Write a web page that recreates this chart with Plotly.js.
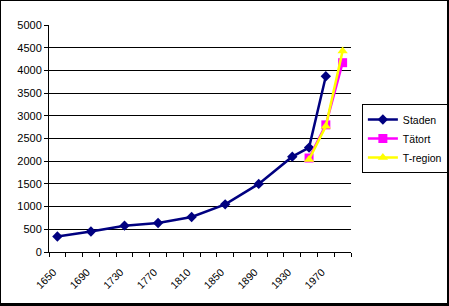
<!DOCTYPE html>
<html>
<head>
<meta charset="utf-8">
<script src="https://cdn.plot.ly/plotly-3.0.1.min.js"></script>
<style>
html,body{margin:0;padding:0;background:#fff;}
#wrap{position:relative;width:449px;height:306px;}
#chart{position:absolute;left:0;top:0;width:449px;height:306px;}
#frame{position:absolute;left:0;top:0;width:449px;height:306px;box-sizing:border-box;
  border-style:solid;border-color:#000;border-width:1px 2px 3px 1px;pointer-events:none;}
</style>
</head>
<body>
<div id="wrap"><div id="chart"></div><div id="frame"></div></div>
<script>
// Data
const stadenYears = [1650, 1690, 1730, 1770, 1810, 1850, 1890, 1930, 1950, 1970];
const stadenValues = [340, 450, 580, 640, 770, 1050, 1500, 2100, 2300, 3870];
const tatortYears = [1950, 1970, 1990];
const tatortValues = [2070, 2800, 4170];
const tregionYears = [1950, 1970, 1990];
const tregionValues = [2040, 2770, 4430];
const xTickLabels = ['1650', '1690', '1730', '1770', '1810', '1850', '1890', '1930', '1970'];
const xTickVals = xTickLabels.map(Number);

const font = 'Liberation Sans, Arial, sans-serif';

const traces = [
  {x: stadenYears, y: stadenValues, name: 'Staden', type: 'scatter', mode: 'lines+markers',
   line: {color: '#000080', width: 2.5}, marker: {symbol: 'diamond', size: 8, color: '#000080'}},
  {x: tatortYears, y: tatortValues, name: 'Tätort', type: 'scatter', mode: 'lines+markers',
   line: {color: '#FF00FF', width: 2.5}, marker: {symbol: 'square', size: 9, color: '#FF00FF'}},
  {x: tregionYears, y: tregionValues, name: 'T-region', type: 'scatter', mode: 'lines+markers',
   line: {color: '#FFFF00', width: 2.5}, marker: {symbol: 'triangle-up', size: 9, color: '#FFFF00'}}
];

const layout = {
  width: 449, height: 306,
  margin: {l: 49, r: 98, t: 25, b: 54, pad: 0, autoexpand: false},
  paper_bgcolor: '#fff', plot_bgcolor: '#fff',
  font: {family: font, size: 11, color: '#000'},
  showlegend: true,
  legend: {x: 1.036, xanchor: 'left', y: 0.652, yanchor: 'top',
    bordercolor: '#000', borderwidth: 1, bgcolor: '#fff',
    font: {family: font, size: 10.5, color: '#000'}, tracegroupgap: 0, itemwidth: 30},
  xaxis: {
    range: [1640, 2000], tickmode: 'array', tickvals: xTickVals, ticktext: xTickLabels,
    tickangle: -45, ticks: '', showgrid: false, zeroline: false,
    showline: true, linecolor: '#000', linewidth: 1,
    tickfont: {family: font, size: 10.5, color: '#000'},
    ticklabelstandoff: 9, ticklabelshift: -4,
    minor: {tick0: 1640, dtick: 20, ticks: 'outside', ticklen: 4, tickcolor: '#000', tickwidth: 1, showgrid: false}
  },
  yaxis: {
    range: [0, 5000], dtick: 500, tick0: 0, ticks: 'outside', ticklen: 4, tickcolor: '#000',
    showgrid: true, gridcolor: '#000', gridwidth: 1, zeroline: false,
    showline: true, linecolor: '#000', linewidth: 1,
    tickfont: {family: font, size: 11, color: '#000'}
  }
};

Plotly.newPlot('chart', traces, layout, {displayModeBar: false, staticPlot: true});
</script>
</body>
</html>
